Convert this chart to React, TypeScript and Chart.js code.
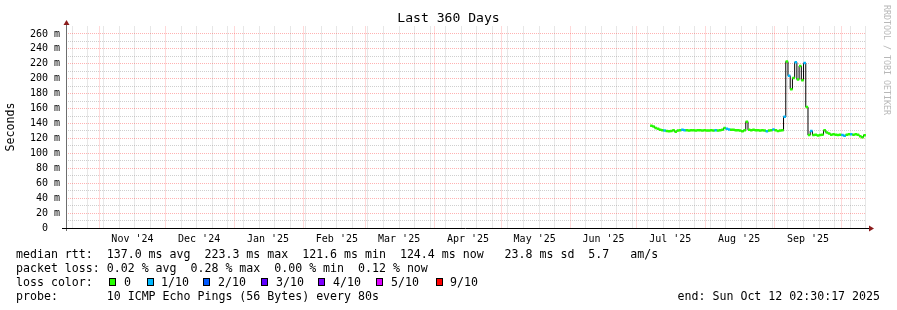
import React, { useEffect, useRef } from "react";
import { Chart, registerables } from "chart.js";

Chart.register(...registerables);

// ---- time frame of the graph (last 360 days) ----
const GRAPH_START = Date.UTC(2024, 9, 17, 2, 30, 17);
const GRAPH_END = Date.UTC(2025, 9, 12, 2, 30, 17);
const DAY = 86400000;
const FIRST_SAMPLE = Date.UTC(2025, 6, 7, 12, 0, 0); // one consolidated sample per day

// ---- median RTT per day (ms) ----
const medianRtt = [
  137, 136, 134, 133, 131.5, 131, 130.5, 130, 129.5, 130,
  131, 129, 130.5, 131, 131.5, 131, 131, 130.5, 131, 131,
  130.5, 131, 131, 130.5, 131, 130.5, 130.5, 131, 130.5, 131,
  130.5, 131, 131.5, 134, 133, 132, 131.5, 131.5, 131, 131,
  130.5, 129.5, 131, 142.5, 131.5, 131, 131.5, 131, 131, 130.5,
  131, 130.5, 129.5, 130.5, 131, 132, 131, 130, 130.5, 131,
  149, 223, 204, 186, 201, 222, 199, 217, 198, 221,
  162, 124.5, 130, 124.5, 125, 124, 124.5, 125, 131, 128,
  126.5, 125, 125.5, 125, 124.5, 125, 124.5, 123.5, 125, 125.5,
  125.5, 125, 125.5, 125, 123, 121.6, 124.4,
];

// ---- packet loss per day (index into lossColors: 0 = none, 1 = 1/10) ----
const lossLevel = [
  0, 0, 0, 0, 0, 0, 1, 0, 0, 0,
  0, 0, 0, 0, 1, 1, 0, 0, 0, 0,
  0, 0, 0, 0, 0, 0, 0, 0, 0, 1,
  0, 0, 0, 0, 1, 1, 0, 0, 0, 0,
  0, 0, 0, 0, 0, 0, 0, 0, 0, 0,
  0, 0, 1, 0, 0, 1, 0, 0, 0, 0,
  1, 0, 1, 0, 0, 1, 0, 0, 0, 1,
  0, 0, 1, 0, 0, 0, 0, 0, 0, 0,
  0, 0, 0, 0, 0, 0, 1, 1, 0, 0,
  1, 0, 0, 0, 0, 0, 0,
];

const lossColors = ["#26ff00", "#00b8ff", "#0059ff", "#5e00ff", "#7e00ff", "#dd00ff", "#ff0000"];
const lossLabels = ["0", "1/10", "2/10", "3/10", "4/10", "5/10", "9/10"];

const monthLabels = [
  "Nov '24", "Dec '24", "Jan '25", "Feb '25", "Mar '25", "Apr '25",
  "May '25", "Jun '25", "Jul '25", "Aug '25", "Sep '25",
];

const titleText = "Last 360 Days";
const yAxisTitle = "Seconds";
const watermark = "RRDTOOL / TOBI OETIKER";
const statsLines = [
  "median rtt:  137.0 ms avg  223.3 ms max  121.6 ms min  124.4 ms now   23.8 ms sd  5.7   am/s",
  "packet loss: 0.02 % avg  0.28 % max  0.00 % min  0.12 % now",
  "loss color:",
  "probe:       10 ICMP Echo Pings (56 Bytes) every 80s",
];
const endText = "end: Sun Oct 12 02:30:17 2025";

// ---- styling ----
const MONO = '"DejaVu Sans Mono", monospace';
const MAJOR_GRID = "rgba(255,0,0,0.3)";
const MINOR_GRID = "rgba(140,140,140,0.42)";
const ARROW = "#8b1c1c";

function buildXTicks() {
  const ticks: any[] = [];
  const majors: number[] = [];
  for (let k = 0; k < 12; k++) {
    const t = Date.UTC(2024, 10 + k, 1);
    if (t >= GRAPH_START && t <= GRAPH_END) {
      majors.push(t);
      ticks.push({ value: t, kind: "major", text: "" });
    }
  }
  for (let t = Date.UTC(2024, 9, 20); t <= GRAPH_END; t += 7 * DAY) {
    if (!majors.includes(t)) ticks.push({ value: t, kind: "minor", text: "" });
  }
  monthLabels.forEach((lab, k) => {
    ticks.push({ value: Date.UTC(2024, 10 + k, 16), kind: "label", text: lab });
  });
  ticks.sort((a, b) => a.value - b.value);
  return ticks;
}

const decorPlugin = {
  id: "rrdDecor",
  afterDraw(chart: any) {
    const { ctx, chartArea } = chart;
    const { left, right, top, bottom } = chartArea;
    ctx.save();
    // y axis
    ctx.lineWidth = 1;
    ctx.strokeStyle = "#6e6e6e";
    ctx.beginPath();
    ctx.moveTo(left + 0.5, bottom + 3);
    ctx.lineTo(left + 0.5, top - 2);
    ctx.stroke();
    // x axis
    ctx.strokeStyle = "#000";
    ctx.beginPath();
    ctx.moveTo(left - 4, bottom + 0.5);
    ctx.lineTo(right + 3, bottom + 0.5);
    ctx.stroke();
    // arrows
    ctx.fillStyle = ARROW;
    ctx.beginPath();
    ctx.moveTo(left + 0.5 - 3, top - 1.5);
    ctx.lineTo(left + 0.5 + 3, top - 1.5);
    ctx.lineTo(left + 0.5, top - 6.5);
    ctx.closePath();
    ctx.fill();
    ctx.beginPath();
    ctx.moveTo(right + 3, bottom + 0.5 - 3);
    ctx.lineTo(right + 3, bottom + 0.5 + 3);
    ctx.lineTo(right + 8, bottom + 0.5);
    ctx.closePath();
    ctx.fill();

    // title
    ctx.fillStyle = "#000";
    ctx.textBaseline = "middle";
    ctx.textAlign = "center";
    ctx.font = `13.1px ${MONO}`;
    ctx.fillText(titleText, 448.5, 19);

    // y axis title
    ctx.save();
    ctx.translate(11, 127);
    ctx.rotate(-Math.PI / 2);
    ctx.font = `11.6px ${MONO}`;
    ctx.fillText(yAxisTitle, 0, 0);
    ctx.restore();

    // watermark
    ctx.save();
    ctx.translate(886, 60);
    ctx.rotate(Math.PI / 2);
    ctx.font = `8.3px ${MONO}`;
    ctx.fillStyle = "#b8b8b8";
    ctx.fillText(watermark, 0, 0);
    ctx.restore();

    // stats / legend
    ctx.font = `11.6px ${MONO}`;
    ctx.textAlign = "left";
    ctx.fillStyle = "#000";
    const lineY = [254.5, 268.5, 282.5, 296.5];
    statsLines.forEach((s, i) => ctx.fillText(s, 16, lineY[i]));
    const swatchX = [109, 147, 203, 261, 318, 376, 436];
    const labelX = [124, 161, 218, 276, 333, 391, 450];
    lossLabels.forEach((lab, i) => {
      ctx.fillStyle = lossColors[i];
      ctx.fillRect(swatchX[i], 278, 7, 8);
      ctx.strokeStyle = "#000";
      ctx.lineWidth = 1;
      ctx.strokeRect(swatchX[i] + 0.5, 278.5, 6, 7);
      ctx.fillStyle = "#000";
      ctx.fillText(lab, labelX[i], lineY[2]);
    });
    ctx.textAlign = "right";
    ctx.fillText(endText, 880, lineY[3]);
    ctx.restore();
  },
};

export default function App() {
  const ref = useRef<HTMLCanvasElement>(null);

  useEffect(() => {
    if (!ref.current) return;
    const points = medianRtt.map((v, i) => ({ x: FIRST_SAMPLE + i * DAY, y: v }));
    const pointColors = lossLevel.map((l) => lossColors[l]);

    const chart = new Chart(ref.current, {
      type: "line",
      data: {
        datasets: [
          {
            data: points,
            showLine: false,
            pointStyle: "line",
            pointRadius: 1.25,
            pointHoverRadius: 1.25,
            pointBorderWidth: 2.5,
            pointBorderColor: pointColors,
            pointBackgroundColor: pointColors,
            order: 0,
          },
          {
            data: points,
            borderColor: "#000",
            borderWidth: 1,
            stepped: "middle",
            pointRadius: 0,
            fill: false,
            order: 1,
          },
        ],
      } as any,
      options: {
        animation: false,
        responsive: false,
        devicePixelRatio: 1,
        events: [],
        layout: { padding: { top: 26.5, right: 31, left: 0, bottom: 0 } },
        plugins: { legend: { display: false }, tooltip: { enabled: false }, title: { display: false } },
        scales: {
          x: {
            type: "linear",
            min: GRAPH_START,
            max: GRAPH_END,
            afterBuildTicks: (scale: any) => {
              scale.ticks = buildXTicks();
            },
            afterFit: (scale: any) => {
              scale.height = 82;
            },
            grid: {
              drawTicks: false,
              lineWidth: 1,
              color: (c: any) =>
                c.tick?.kind === "major" ? MAJOR_GRID : c.tick?.kind === "minor" ? MINOR_GRID : "transparent",
            },
            border: { display: false, dash: [1, 1] },
            ticks: {
              autoSkip: false,
              maxRotation: 0,
              minRotation: 0,
              padding: 5,
              color: "#000",
              font: { family: MONO, size: 10 },
              callback: (_v: any, i: number, ticks: any[]) => ticks[i].text || "",
            },
          },
          y: {
            type: "linear",
            min: 0,
            max: 270,
            afterFit: (scale: any) => {
              scale.width = 66;
            },
            grid: {
              drawTicks: false,
              lineWidth: 1,
              color: (c: any) => {
                const v = c.tick?.value;
                if (v === 0 || v >= 270) return "transparent";
                return v % 20 === 0 ? MAJOR_GRID : MINOR_GRID;
              },
            },
            border: { display: false, dash: [1, 1] },
            ticks: {
              stepSize: 10,
              autoSkip: false,
              padding: 6,
              color: "#000",
              font: { family: MONO, size: 10 },
              callback: (v: any) => {
                const n = Number(v);
                if (n % 20 !== 0 || n >= 270) return "";
                return n === 0 ? "0  " : `${n} m`;
              },
            },
          },
        },
      } as any,
      plugins: [decorPlugin],
    });
    return () => chart.destroy();
  }, []);

  return (
    <div style={{ position: "absolute", left: 0, top: 0, width: 897, height: 310, background: "#fff" }}>
      <canvas ref={ref} width={897} height={310} style={{ display: "block", width: 897, height: 310 }} />
    </div>
  );
}
